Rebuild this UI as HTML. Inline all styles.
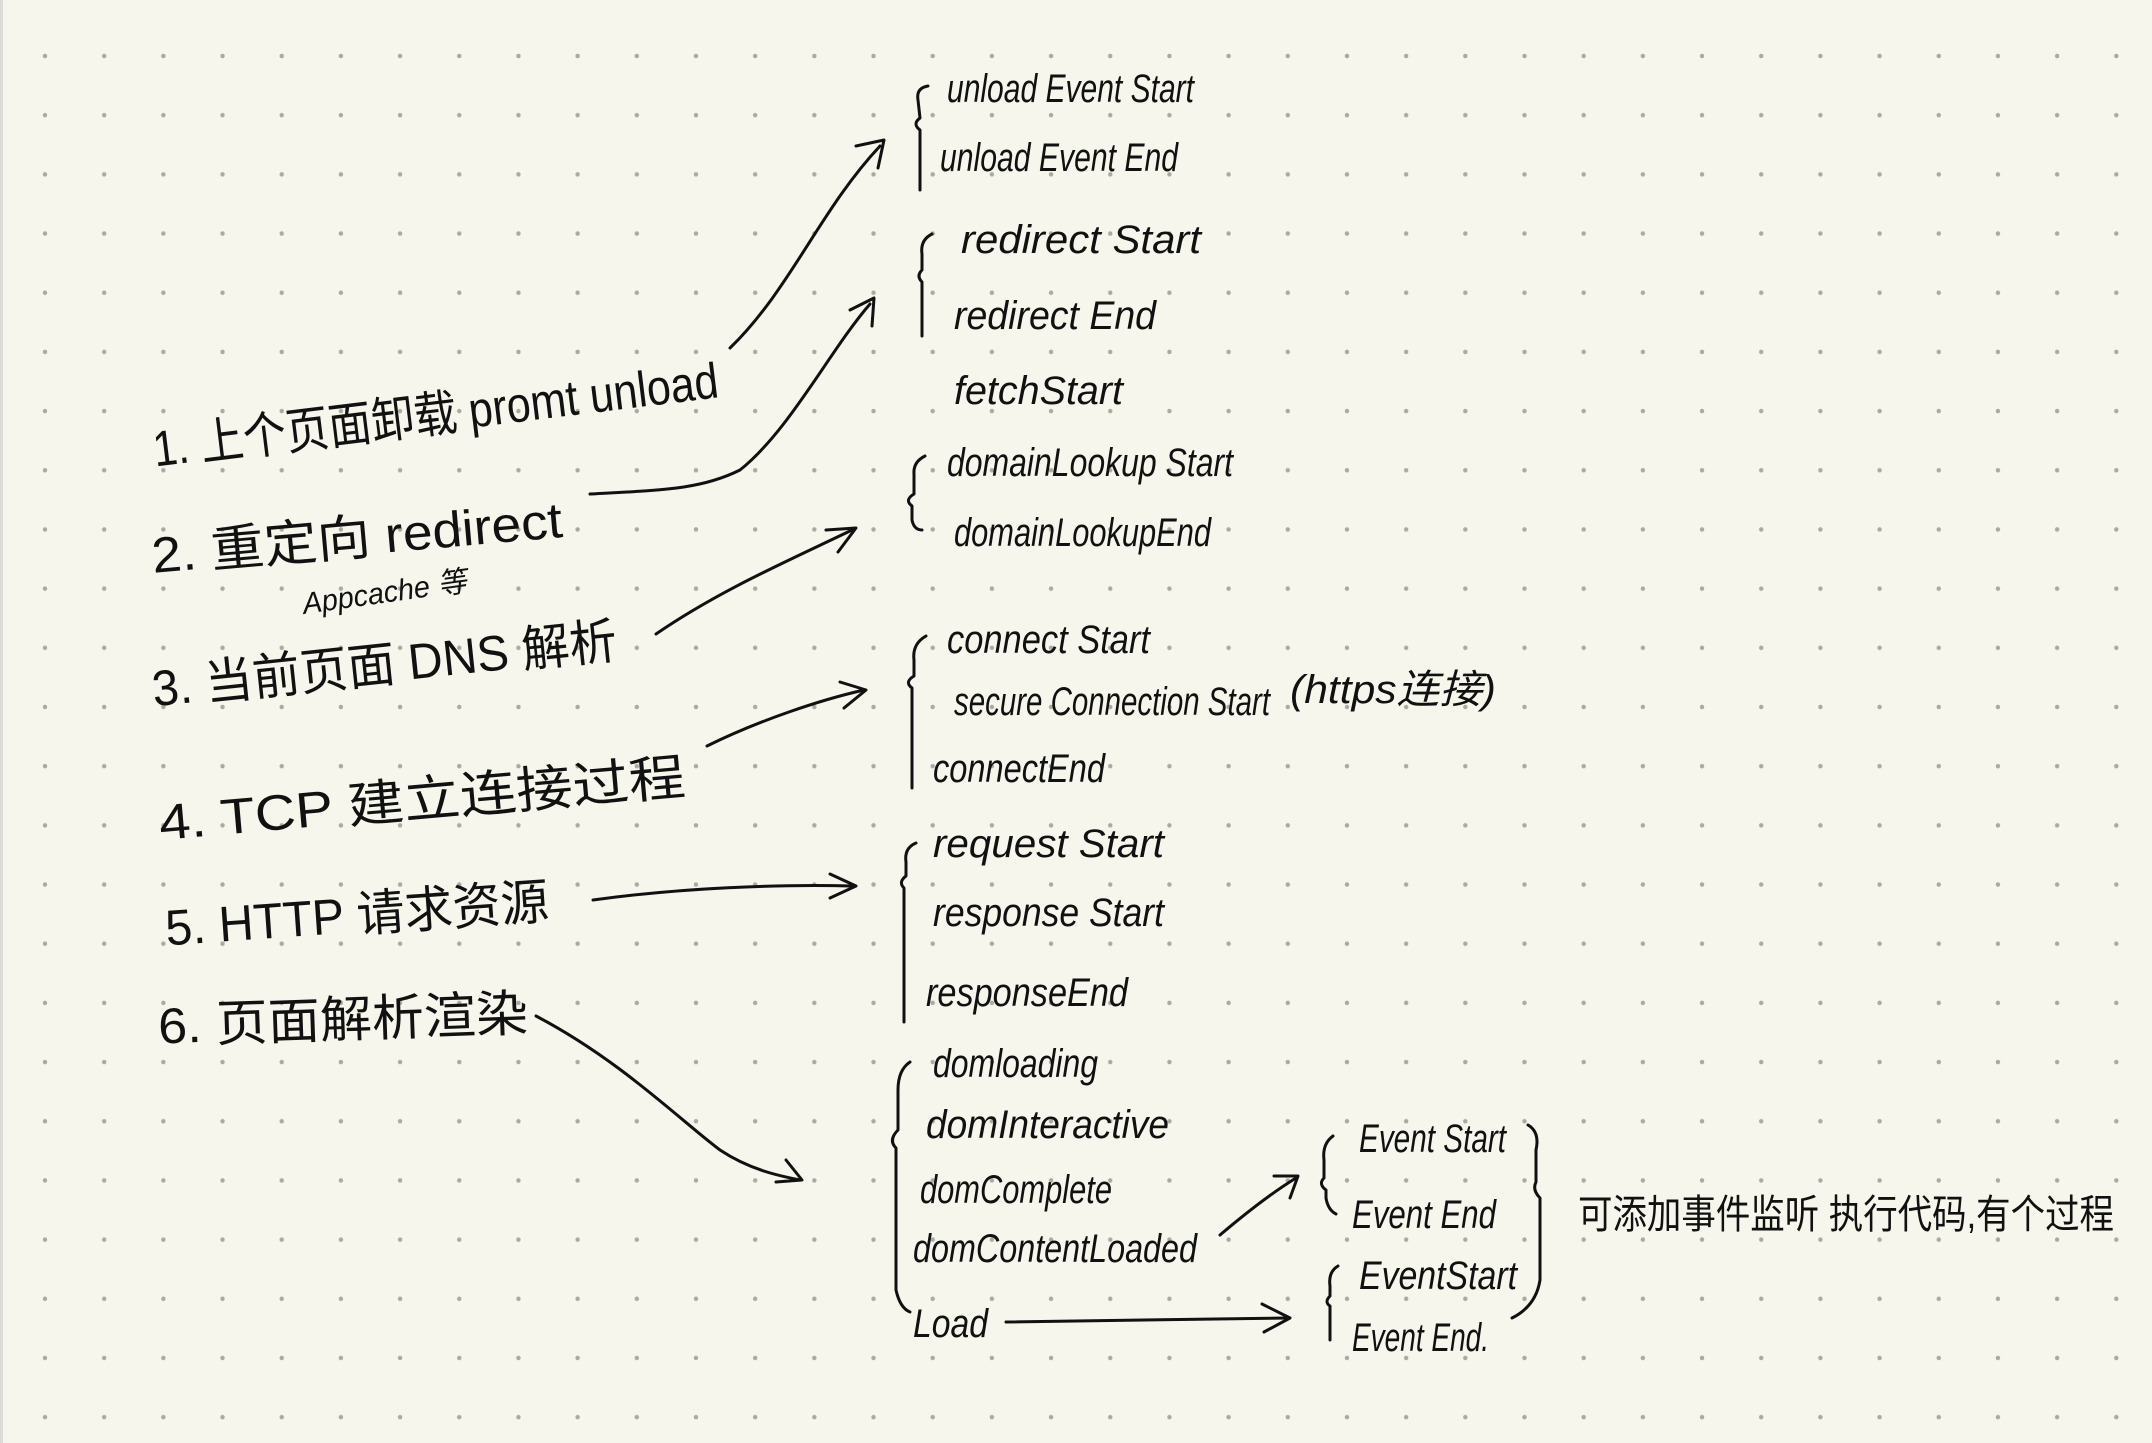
<!DOCTYPE html>
<html><head><meta charset="utf-8"><style>
html,body{margin:0;padding:0;background:#f6f6ec;}
svg{display:block}
text{font-family:"Liberation Sans","Noto Sans CJK SC",sans-serif;fill:#111;dominant-baseline:central;}
.l{font-size:50px;}
.r{font-size:40px;font-style:italic;}
path{fill:none;stroke:#111;stroke-width:3;stroke-linecap:round;stroke-linejoin:round}
</style></head><body>
<svg width="2152" height="1443" viewBox="0 0 2152 1443" xmlns="http://www.w3.org/2000/svg">
<defs>
<pattern id="d" x="45" y="56" width="59.18" height="59.18" patternUnits="userSpaceOnUse">
<circle cx="0" cy="0" r="2.2" fill="#aaa9a2"/><circle cx="59.18" cy="0" r="2.2" fill="#aaa9a2"/><circle cx="0" cy="59.18" r="2.2" fill="#aaa9a2"/><circle cx="59.18" cy="59.18" r="2.2" fill="#aaa9a2"/>
</pattern>
</defs>
<rect width="2152" height="1443" fill="#f6f6ec"/>
<rect x="0" y="0" width="3" height="1443" fill="#dcdcd6"/>
<rect width="2152" height="1443" fill="url(#d)"/>

<!-- left list -->
<text class="l" x="151" y="415" transform="rotate(-7 435 415)" textLength="569" lengthAdjust="spacingAndGlyphs">1. 上个页面卸载 promt unload</text>
<text class="l" x="151" y="538" transform="rotate(-5 357 538)" textLength="412" lengthAdjust="spacingAndGlyphs">2. 重定向 redirect</text>
<text x="302" y="593" transform="rotate(-8 385 593)" style="font-size:30px;font-style:italic" textLength="165" lengthAdjust="spacingAndGlyphs">Appcache 等</text>
<text class="l" x="151" y="665" transform="rotate(-6 384 665)" textLength="467" lengthAdjust="spacingAndGlyphs">3. 当前页面 DNS 解析</text>
<text class="l" x="158" y="800" transform="rotate(-5 422 800)" textLength="528" lengthAdjust="spacingAndGlyphs">4. TCP 建立连接过程</text>
<text class="l" x="165" y="915" transform="rotate(-4 357 915)" textLength="384" lengthAdjust="spacingAndGlyphs">5. HTTP 请求资源</text>
<text class="l" x="158" y="1020" transform="rotate(-2 343 1020)" textLength="370" lengthAdjust="spacingAndGlyphs">6. 页面解析渲染</text>

<!-- right column -->
<text class="r" x="947" y="89" textLength="247" lengthAdjust="spacingAndGlyphs">unload Event Start</text>
<text class="r" x="940" y="158" textLength="238" lengthAdjust="spacingAndGlyphs">unload Event End</text>
<text class="r" x="961" y="240" textLength="240" lengthAdjust="spacingAndGlyphs">redirect Start</text>
<text class="r" x="954" y="316" textLength="202" lengthAdjust="spacingAndGlyphs">redirect End</text>
<text class="r" x="954" y="391" textLength="169" lengthAdjust="spacingAndGlyphs">fetchStart</text>
<text class="r" x="947" y="463" textLength="286" lengthAdjust="spacingAndGlyphs">domainLookup Start</text>
<text class="r" x="954" y="533" textLength="257" lengthAdjust="spacingAndGlyphs">domainLookupEnd</text>
<text class="r" x="947" y="640" textLength="203" lengthAdjust="spacingAndGlyphs">connect Start</text>
<text class="r" x="954" y="702" textLength="316" lengthAdjust="spacingAndGlyphs">secure Connection Start</text>
<text class="r" x="1290" y="690" textLength="206" lengthAdjust="spacingAndGlyphs">(https连接)</text>
<text class="r" x="933" y="769" textLength="172" lengthAdjust="spacingAndGlyphs">connectEnd</text>
<text class="r" x="933" y="844" textLength="231" lengthAdjust="spacingAndGlyphs">request Start</text>
<text class="r" x="933" y="913" textLength="231" lengthAdjust="spacingAndGlyphs">response Start</text>
<text class="r" x="926" y="993" textLength="202" lengthAdjust="spacingAndGlyphs">responseEnd</text>
<text class="r" x="933" y="1064" textLength="165" lengthAdjust="spacingAndGlyphs">domloading</text>
<text class="r" x="926" y="1125" textLength="243" lengthAdjust="spacingAndGlyphs">domInteractive</text>
<text class="r" x="920" y="1190" textLength="192" lengthAdjust="spacingAndGlyphs">domComplete</text>
<text class="r" x="913" y="1249" textLength="284" lengthAdjust="spacingAndGlyphs">domContentLoaded</text>
<text class="r" x="913" y="1324" textLength="75" lengthAdjust="spacingAndGlyphs">Load</text>
<text class="r" x="1359" y="1139" textLength="147" lengthAdjust="spacingAndGlyphs">Event Start</text>
<text class="r" x="1352" y="1215" textLength="144" lengthAdjust="spacingAndGlyphs">Event End</text>
<text class="r" x="1359" y="1276" textLength="158" lengthAdjust="spacingAndGlyphs">EventStart</text>
<text class="r" x="1352" y="1338" textLength="137" lengthAdjust="spacingAndGlyphs">Event End.</text>
<text x="1578" y="1215" style="font-size:40px" textLength="536" lengthAdjust="spacingAndGlyphs">可添加事件监听 执行代码,有个过程</text>

<!-- braces -->
<path d="M928 86 Q916 88 918 100 L920 118 Q912 124 920 130 L920 190"/>
<path d="M932 234 Q920 240 922 254 L922 270 Q916 276 922 282 L922 336"/>
<path d="M925 456 Q913 462 914 474 L914 494 Q904 500 912 506 L912 520 Q914 530 922 530"/>
<path d="M926 636 Q912 644 914 660 L914 676 Q904 682 912 688 L912 788"/>
<path d="M916 843 Q904 848 906 862 L906 876 Q898 882 904 888 L904 1022"/>
<path d="M910 1062 Q898 1070 898 1090 L898 1130 Q888 1140 896 1148 L896 1290 Q900 1308 910 1312"/>
<path d="M1333 1136 Q1322 1144 1324 1160 L1324 1178 Q1318 1184 1326 1190 L1326 1198 Q1328 1210 1336 1214"/>
<path d="M1338 1266 Q1328 1272 1330 1286 L1330 1296 Q1324 1302 1330 1306 L1330 1340"/>
<path d="M1528 1125 Q1540 1132 1536 1150 L1536 1182 Q1532 1190 1540 1198 L1540 1280 Q1536 1306 1512 1318"/>

<!-- arrows -->
<path d="M730 348 C790 290 820 210 880 146"/><path d="M856 146 L884 140 L878 168"/>
<path d="M590 494 C660 490 700 490 740 470 C790 430 830 350 870 304"/><path d="M850 310 L874 298 L872 326"/>
<path d="M656 634 C720 590 790 560 852 530"/><path d="M826 530 L856 528 L838 552"/>
<path d="M707 746 C760 720 820 700 864 690"/><path d="M840 682 L866 690 L844 708"/>
<path d="M593 900 C680 888 780 884 852 886"/><path d="M830 874 L856 886 L830 898"/>
<path d="M536 1016 C620 1060 680 1120 720 1150 C750 1170 780 1176 800 1180"/><path d="M786 1160 L802 1180 L776 1182"/>
<path d="M1220 1235 C1240 1218 1270 1194 1296 1178"/><path d="M1274 1176 L1298 1176 L1290 1198"/>
<path d="M1006 1322 L1288 1318"/><path d="M1262 1304 L1290 1318 L1264 1332"/>
</svg>
</body></html>
